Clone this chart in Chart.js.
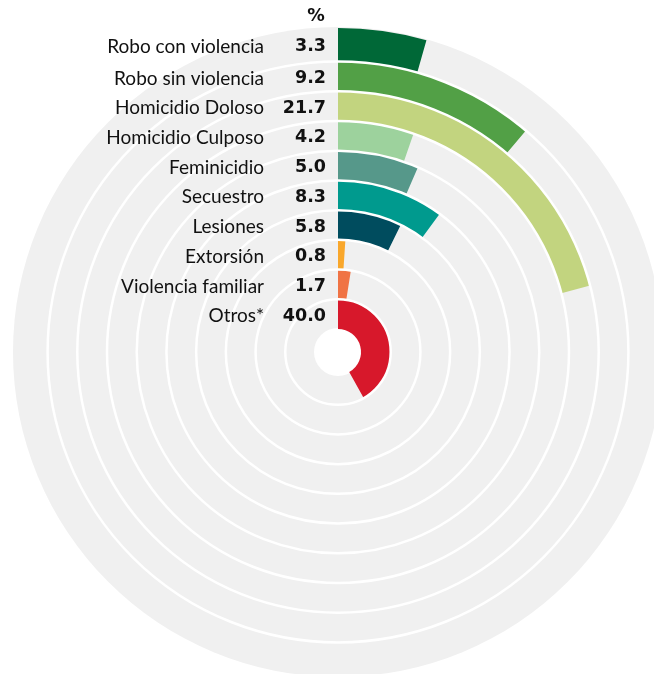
<!DOCTYPE html>
<html>
<head>
<meta charset="utf-8">
<script src="https://cdn.jsdelivr.net/npm/chart.js@4.4.0/dist/chart.umd.min.js"></script>
<style>
  body { margin: 0; background: #fff; overflow: hidden; }
  #contenedor { position: absolute; left: 0; top: 0; width: 700px; height: 700px; }
</style>
</head>
<body>
<div id="contenedor"><canvas id="grafica-radial"></canvas></div>
<script>
// Datos de la grafica
var categorias = ['Robo con violencia', 'Robo sin violencia', 'Homicidio Doloso', 'Homicidio Culposo',
  'Feminicidio', 'Secuestro', 'Lesiones', 'Extorsión', 'Violencia familiar', 'Otros*'];
// porcentaje que se lee en el texto
var etiquetasValor = ['3.3', '9.2', '21.7', '4.2', '5.0', '8.3', '5.8', '0.8', '1.7', '40.0'];
// largo de cada barra medido en el dibujo (% de la vuelta completa)
var valoresBarra = [4.4, 11.2, 20.9, 5.3, 6.5, 10.1, 7.3, 1.05, 2.5, 41.9];
var colores = ['#006837', '#52a046', '#c2d47f', '#9dd29d', '#56988a', '#009a8e', '#004c5e', '#f9a72b', '#f07344', '#d7182b'];
var total = 100;
var titulo = '%';

var fuenteTexto = "Lato, 'Open Sans', sans-serif";
var fuenteNumero = "'DejaVu Sans', sans-serif";

// fondo gris con anillos blancos y etiquetas
var pluginFondo = {
  id: 'fondo',
  beforeDatasetsDraw: function(chart) {
    var ctx = chart.ctx;
    var arcoExt = chart.getDatasetMeta(0).data[0];
    var arcoInt = chart.getDatasetMeta(valoresBarra.length - 1).data[0];
    ctx.save();
    ctx.fillStyle = '#f0f0f0';
    ctx.beginPath();
    ctx.arc(arcoExt.x, arcoExt.y, arcoExt.outerRadius + 1, 0, Math.PI * 2);
    ctx.fill();
    ctx.fillStyle = '#ffffff';
    ctx.beginPath();
    ctx.arc(arcoInt.x, arcoInt.y, arcoInt.innerRadius + 1, 0, Math.PI * 2);
    ctx.fill();
    ctx.restore();
  },
  afterDatasetsDraw: function(chart) {
    var ctx = chart.ctx;
    ctx.save();
    ctx.strokeStyle = '#ffffff';
    ctx.lineWidth = 2.5;
    for (var i = 0; i < valoresBarra.length - 1; i++) {
      var arco = chart.getDatasetMeta(i).data[0];
      ctx.beginPath();
      ctx.arc(arco.x, arco.y, arco.innerRadius, 0, Math.PI * 2);
      ctx.stroke();
    }
    // etiquetas
    ctx.fillStyle = '#111111';
    ctx.textBaseline = 'middle';
    for (var j = 0; j < valoresBarra.length; j++) {
      var a = chart.getDatasetMeta(j).data[0];
      var y = a.y - (a.innerRadius + a.outerRadius) / 2 + 2;
      ctx.textAlign = 'right';
      ctx.font = '19px ' + fuenteTexto;
      ctx.fillText(categorias[j], 264, y);
      ctx.font = 'bold 17.5px ' + fuenteNumero;
      ctx.fillText(etiquetasValor[j], 326, y);
    }
    ctx.textAlign = 'center';
    ctx.font = 'bold 17.5px ' + fuenteNumero;
    ctx.fillText(titulo, 316, 16);
    ctx.restore();
  }
};

var datasets = [];
for (var i = 0; i < valoresBarra.length; i++) {
  datasets.push({
    label: categorias[i],
    data: [valoresBarra[i], total - valoresBarra[i]],
    backgroundColor: [colores[i], 'rgba(0,0,0,0)'],
    borderWidth: 0,
    hoverOffset: 0,
    weight: i == 0 ? 1.13 : 1
  });
}

var ctx = document.getElementById('grafica-radial').getContext('2d');
var chart = new Chart(ctx, {
  type: 'doughnut',
  data: {
    labels: ['valor', 'resto'],
    datasets: datasets
  },
  options: {
    responsive: true,
    maintainAspectRatio: false,
    animation: false,
    cutout: 23,
    layout: { padding: { left: 14, top: 28, right: 38, bottom: 24 } },
    plugins: {
      legend: { display: false },
      tooltip: { enabled: false }
    }
  },
  plugins: [pluginFondo]
});
</script>
</body>
</html>
